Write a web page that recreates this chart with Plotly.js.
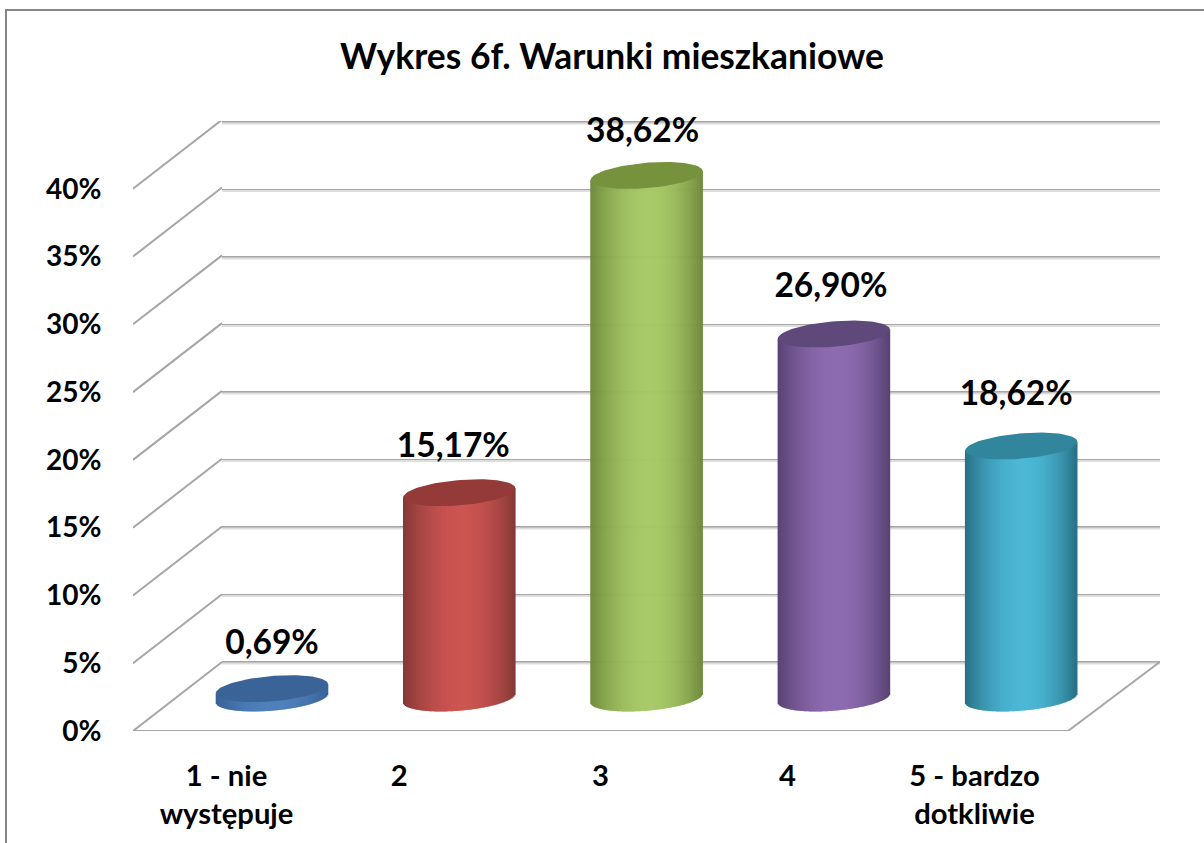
<!DOCTYPE html>
<html>
<head>
<meta charset="utf-8">
<script src="https://cdn.plot.ly/plotly-3.0.1.min.js"></script>
<style>html,body{margin:0;padding:0;background:#fff}#chart{width:1204px;height:843px}</style>
</head>
<body>
<div id="chart"></div>
<script>
const categories = ['1 - nie<br>występuje', '2\u00a0\u00a0\u00a0\u00a0', '3', '4', '5 - bardzo<br>dotkliwie'];
const values = [0.69, 15.17, 38.62, 26.90, 18.62];
const valueLabels = ['0,69%', '15,17%', '38,62%', '26,90%', '18,62%'];
const yTicks = [0, 5, 10, 15, 20, 25, 30, 35, 40];
const yTickLabels = ['0%', '5%', '10%', '15%', '20%', '25%', '30%', '35%', '40%'];
const centerColors = [[79,129,189], [204,84,81], [166,201,100], [142,108,176], [76,184,214]];
const edgeColors = [[56,98,150], [132,56,54], [108,136,56], [88,66,116], [40,112,132]];
const topColors = ['#3a6497', '#943a38', '#76923c', '#5f497a', '#31859c'];

const W = 1204, H = 843;
const fx = p => p / W, fy = p => 1 - p / H;
const GRID = '#a6a6a6', SHADOW = '#dedede';

// Projection of the chart's pseudo-3D: cylinder plane in px per unit
const pxPerCat = 187.3, pxPerPct = 13.53, cx0 = 272, cyBase = 698;
const semiA = 56, semiB = 12.7, shear = 4.5;
const stripPx = 1;

// strips making up the cylinder walls
const sx = [], sBase = [], sTop = [], sCol = [], sW = [];
values.forEach((v, i) => {
  for (let p = -semiA + stripPx / 2; p < semiA; p += stripPx) {
    const u = p / semiA;
    const low = (shear * u - semiB * Math.sqrt(1 - u * u)) / pxPerPct;
    const top = v + shear * u / pxPerPct;
    const k = Math.min(1, Math.pow(Math.abs(u - 0.06) / (u > 0.06 ? 0.94 : 1.06), 1.9));
    const c = centerColors[i].map((ch, j) => Math.round(ch + (edgeColors[i][j] - ch) * k));
    sx.push(i + 1 + p / pxPerCat);
    sBase.push(low);
    sTop.push(top - low);
    sCol.push(`rgb(${c.join(',')})`);
    sW.push((stripPx + 0.6) / pxPerCat);
  }
});

const traces = [];
// soft shadow under the back-wall gridlines
const gx = [], gy = [];
yTicks.forEach(t => { gx.push(0, 1, null); gy.push(t - 0.12, t - 0.12, null); });
traces.push({type: 'scatter', mode: 'lines', x: gx, y: gy, xaxis: 'x', yaxis: 'y', hoverinfo: 'skip', showlegend: false,
  line: {color: SHADOW, width: 2}});

// side wall and floor outlines, front axis with tick labels
const dCat = 89 / 187, dPct = 5.09;
const lx = [], ly = [];
yTicks.forEach(t => {
  lx.push(0.5, 0.5 + dCat, null);
  ly.push(t, t + dPct, null);
});
lx.push(0.5, 5.5, 5.5 + dCat + 0.015);
ly.push(0, 0, dPct);
traces.push({type: 'scatter', mode: 'lines', x: lx, y: ly, xaxis: 'x2', yaxis: 'y2', hoverinfo: 'skip', showlegend: false,
  line: {color: GRID, width: 2}, cliponaxis: false});

// cylinder walls
traces.push({type: 'bar', x: sx, y: sTop, base: sBase, width: sW, xaxis: 'x3', yaxis: 'y3', hoverinfo: 'skip', showlegend: false,
  marker: {color: sCol, line: {width: 0}}});

// cylinder tops
values.forEach((v, i) => {
  const ex = [], ey = [];
  for (let d = 0; d <= 360; d += 4) {
    const t = d * Math.PI / 180;
    ex.push(i + 1 + semiA * Math.cos(t) / pxPerCat);
    ey.push(v + (semiB * Math.sin(t) + shear * Math.cos(t)) / pxPerPct);
  }
  traces.push({type: 'scatter', mode: 'lines', x: ex, y: ey, fill: 'toself', fillcolor: topColors[i], line: {width: 0, color: topColors[i]},
    xaxis: 'x3', yaxis: 'y3', hoverinfo: 'skip', showlegend: false});
});

// value labels
const labelDx = [0, -6, -4, -3, -5], labelDy = [43, 44, 42, 45, 49];
traces.push({type: 'scatter', mode: 'text', xaxis: 'x3', yaxis: 'y3', hoverinfo: 'skip', showlegend: false,
  x: values.map((v, i) => i + 1 + labelDx[i] / pxPerCat),
  y: values.map((v, i) => v + labelDy[i] / pxPerPct),
  text: valueLabels, textposition: 'middle center', cliponaxis: false,
  textfont: {family: 'Lato, sans-serif', size: 33.5, color: '#000', weight: 700}});

const layout = {
  width: W, height: H, autosize: false,
  margin: {l: 0, r: 0, t: 0, b: 0},
  paper_bgcolor: '#fff', plot_bgcolor: 'rgba(0,0,0,0)',
  showlegend: false, barmode: 'overlay', hovermode: false,
  title: {text: '<b>Wykres 6f. Warunki mieszkaniowe</b>', font: {family: 'Lato, sans-serif', size: 35.4, color: '#000'},
    x: 612 / W, xanchor: 'center', y: 1 - 57 / H, yanchor: 'middle'},
  xaxis: {domain: [fx(222), fx(1160)], range: [0, 1], anchor: 'y', visible: true, showgrid: false, zeroline: false, showticklabels: false, ticks: '', showline: false},
  yaxis: {domain: [fy(675.5), fy(108.5)], range: [-1, 41], anchor: 'x', tickvals: yTicks, showgrid: true, gridcolor: GRID, gridwidth: 2, zeroline: false, showticklabels: false, ticks: '', showline: false},
  xaxis2: {domain: [fx(133), fx(1160)], range: [0.5, 0.5 + 1027 / 187], anchor: 'y2', tickvals: [1, 2, 3, 4, 5], ticktext: categories, showgrid: false, zeroline: false,
    ticks: 'outside', ticklen: 19, tickcolor: 'rgba(0,0,0,0)', tickfont: {family: 'Lato, sans-serif', size: 29.2, color: '#000', weight: 700}, showline: false},
  yaxis2: {domain: [fy(731), fy(121)], range: [0, 45], anchor: 'x2', tickvals: yTicks, ticktext: yTickLabels, showgrid: false, zeroline: false,
    ticks: 'outside', ticklen: 25, tickcolor: 'rgba(0,0,0,0)', tickfont: {family: 'Lato, sans-serif', size: 28, color: '#000', weight: 700}, showline: false},
  xaxis3: {domain: [0, 1], range: [1 - cx0 / pxPerCat, 1 + (W - cx0) / pxPerCat], anchor: 'y3', visible: false},
  yaxis3: {domain: [0, 1], range: [(cyBase - H) / pxPerPct, cyBase / pxPerPct], anchor: 'x3', visible: false},
  shapes: [{type: 'path', xref: 'paper', yref: 'paper', path: `M ${fx(6)} 0 L ${fx(6)} ${fy(10)} L 1 ${fy(10)}`, line: {color: '#868686', width: 2}}]
};
Plotly.newPlot('chart', traces, layout, {staticPlot: true, displayModeBar: false});
</script>
</body>
</html>
